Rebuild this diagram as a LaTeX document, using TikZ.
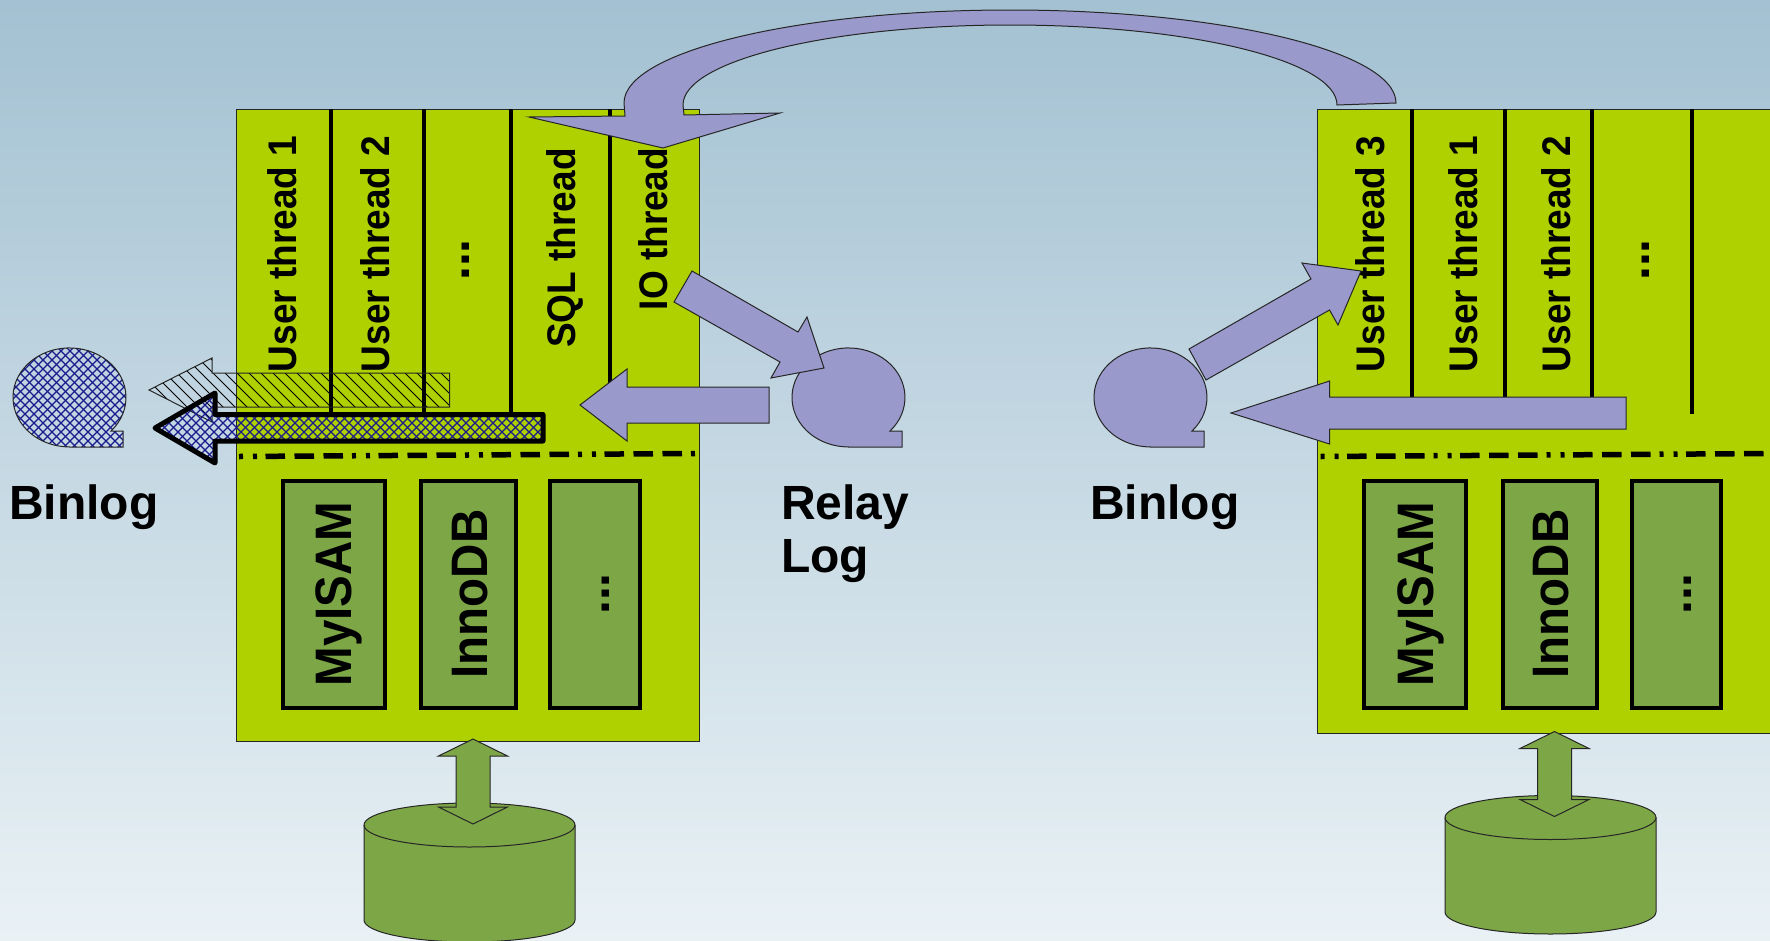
\documentclass[tikz,border=0pt]{standalone}
\usepackage{graphicx}
\usepackage{fontspec}
\setmainfont{Liberation Sans}
\definecolor{bgtop}{HTML}{A3C1D2}
\definecolor{bgbot}{HTML}{E9F1F5}
\definecolor{boxgreen}{HTML}{AFD100}
\definecolor{blockgreen}{HTML}{7DA647}
\definecolor{arrowpurple}{HTML}{9999CC}
\definecolor{hatchblue}{HTML}{1A1A8C}
\newcommand{\blobpath}[1]{(#1,447) -- ++(53.5,0) -- ++(0,-16) -- ++(-12,0) arc[start angle=42.7,end angle=-270,x radius=56.5,y radius=49.5] -- cycle}
\newcommand{\dbarrow}[2]{\draw[thinline,fill=blockgreen,shift={(#1,#2)}] (0,0) -- (34.5,17) -- (17,17) -- (17,68) -- (34.5,68) -- (0,85) -- (-34.5,68) -- (-17,68) -- (-17,17) -- (-34.5,17) -- cycle;}
\newcommand{\cylshape}[3]{\draw[thinline,fill=blockgreen] (#1,#2) -- (#1,#3) arc[start angle=180,end angle=0,x radius=105.5,y radius=22] -- ++(0,{#2-#3}) arc[start angle=0,end angle=-180,x radius=105.5,y radius=22] -- cycle;
\draw[thinline] (#1,#2) arc[start angle=180,end angle=0,x radius=105.5,y radius=22];}
% cross-hatch and single hatch, to be used inside a clipped scope
\newcommand{\crosslines}{%
  \foreach \k in {340,349,...,1040} {\draw[hatchblue,line width=1.2pt] ({\k-340},340) -- ({\k-470},470);}
  \foreach \k in {-470,-461,...,220} {\draw[hatchblue,line width=1.2pt] ({\k+340},340) -- ({\k+470},470);}}
\newcommand{\singlelines}{%
  \foreach \k in {-280,-268,...,100} {\draw[black,line width=1pt] ({\k+350},350) -- ({\k+430},430);}}
\tikzset{
  thinline/.style={draw=black!85,line width=1pt},
  servbox/.style={thinline,fill=boxgreen},
  threadline/.style={draw=black,line width=4pt},
  sepline/.style={draw=black,line width=5.5pt,dash pattern=on 4pt off 10pt on 4pt off 8.5pt on 19.5pt off 9.5pt on 19.5pt off 9.5pt on 19.5pt off 9pt},
  block/.style={draw=black,line width=4pt,fill=blockgreen},
  purple/.style={thinline,fill=arrowpurple},
  threadtext/.style={rotate=90,font=\fontsize{37}{37}\selectfont\bfseries,inner sep=0pt},
  dotstext/.style={rotate=90,font=\fontsize{50}{50}\selectfont\bfseries,inner sep=0pt},
  blocktext/.style={rotate=90,font=\fontsize{47.5}{47.5}\selectfont\bfseries,inner sep=0pt},
  label/.style={anchor=base west,font=\fontsize{48}{48}\selectfont\bfseries,inner sep=0pt},
}
\newcommand{\tall}[1]{\scalebox{1}[1.08]{#1}}
\begin{document}
\begin{tikzpicture}[x=1pt,y=1pt,yscale=-1]
\useasboundingbox (0,0) rectangle (1770,940);
\fill[top color=bgtop,bottom color=bgbot] (0,0) rectangle (1770,940);
% server boxes
\draw[servbox] (236,109) rectangle (699,741);
\draw[servbox] (1317.5,109) rectangle (1775,733);
% thread lines left
\draw[threadline] (330.5,109) -- (330.5,414);
\draw[threadline] (423.5,109) -- (423.5,414);
\draw[threadline] (510.5,109) -- (510.5,414);
\draw[threadline] (610,109) -- (610,400);
% thread lines right
\draw[threadline] (1412,109) -- (1412,400);
\draw[threadline] (1505,109) -- (1505,400);
\draw[threadline] (1592,109) -- (1592,400);
\draw[threadline] (1692,109) -- (1692,414);
% thread labels left
\node[threadtext] (lt1) at (282,254) {\tall{User thread 1}};
\node[threadtext] (lt2) at (375,254) {\tall{User thread 2}};
\node[dotstext] (lt3) at (466,260) {...};
\node[threadtext] (lt4) at (565,248) {\tall{SQL thread}};
\node[threadtext] (lt5) at (653,229) {\tall{IO thread}};
% thread labels right
\node[threadtext] (rt1) at (1370,254) {\tall{User thread 3}};
\node[threadtext] (rt2) at (1463,254) {\tall{User thread 1}};
\node[threadtext] (rt3) at (1556,254) {\tall{User thread 2}};
\node[dotstext] (rt4) at (1646,260) {...};
% separators
\draw[sepline] (239,456.5) -- (695,453.5);
\draw[sepline] (1320.5,456.5) -- (1770,453.5);
% storage blocks
\draw[block] (282.5,481) rectangle (384.5,708);
\draw[block] (421,481) rectangle (515.5,708);
\draw[block] (550,481) rectangle (640,708);
\draw[block] (1364,481) rectangle (1466,708);
\draw[block] (1503,481) rectangle (1597,708);
\draw[block] (1632,481) rectangle (1721,708);
\node[blocktext] (lb1) at (338.5,594) {\tall{MyISAM}};
\node[blocktext] (lb2) at (470.5,594) {\tall{InnoDB}};
\node[dotstext] (lb3) at (606,594) {...};
\node[blocktext] (rb1) at (1420.5,594) {\tall{MyISAM}};
\node[blocktext] (rb2) at (1551.5,594) {\tall{InnoDB}};
\node[dotstext] (rb3) at (1688,594) {...};
% cylinders
\cylshape{364}{825}{920}
\cylshape{1445}{817.5}{912}
\dbarrow{473}{739}
\dbarrow{1554.5}{731.5}
% purple shapes
\draw[purple] \blobpath{848.5};
\draw[purple] \blobpath{1150.5};
\begin{scope}
  \clip \blobpath{69.5};
  \crosslines
\end{scope}
\draw[thinline] \blobpath{69.5};
\draw[purple] (580,405) -- (627,369) -- (627,387) -- (769,387) -- (769,423) -- (627,423) -- (627,441) -- cycle;
\draw[purple] (692,271) -- (798,332) -- (807,317) -- (824,368) -- (771,378) -- (780,362) -- (674,302) -- cycle;
\draw[purple] (1231,413) -- (1329.5,381) -- (1329.5,397) -- (1626,397) -- (1626,429) -- (1329.5,429) -- (1329.5,444) -- cycle;
\draw[purple] (1189,349) -- (1311,279) -- (1302,263) -- (1361,271) -- (1338,325) -- (1329.5,310) -- (1206,380) -- cycle;
\draw[purple] (529,117) -- (625,116) -- (624,103) arc[start angle=180,end angle=360,x radius=386,y radius=93] -- (1337,105) arc[start angle=360,end angle=180,x radius=327,y radius=80] -- (684,115) -- (780,113) -- (663,148) -- cycle;
% hatched arrows
\begin{scope}
  \clip (149,390) -- (212,358) -- (212,373) -- (449.5,373) -- (449.5,407) -- (212,407) -- (212,422) -- cycle;
  \singlelines
\end{scope}
\draw[thinline] (149,390) -- (212,358) -- (212,373) -- (449.5,373) -- (449.5,407) -- (212,407) -- (212,422) -- cycle;
\begin{scope}
  \clip (155,428) -- (215,393) -- (215,414.5) -- (543,414.5) -- (543,441) -- (215,441) -- (215,463) -- cycle;
  \crosslines
\end{scope}
\draw[draw=black,line width=5pt,line join=round] (155,428) -- (215,393) -- (215,414.5) -- (543,414.5) -- (543,441) -- (215,441) -- (215,463) -- cycle;
% labels
\node[label] (bl) at (9,519) {Binlog};
\node[label] (rl1) at (781,519) {Relay};
\node[label] (rl2) at (781,572) {Log};
\node[label] (br) at (1090,519) {Binlog};
\end{tikzpicture}
\end{document}
